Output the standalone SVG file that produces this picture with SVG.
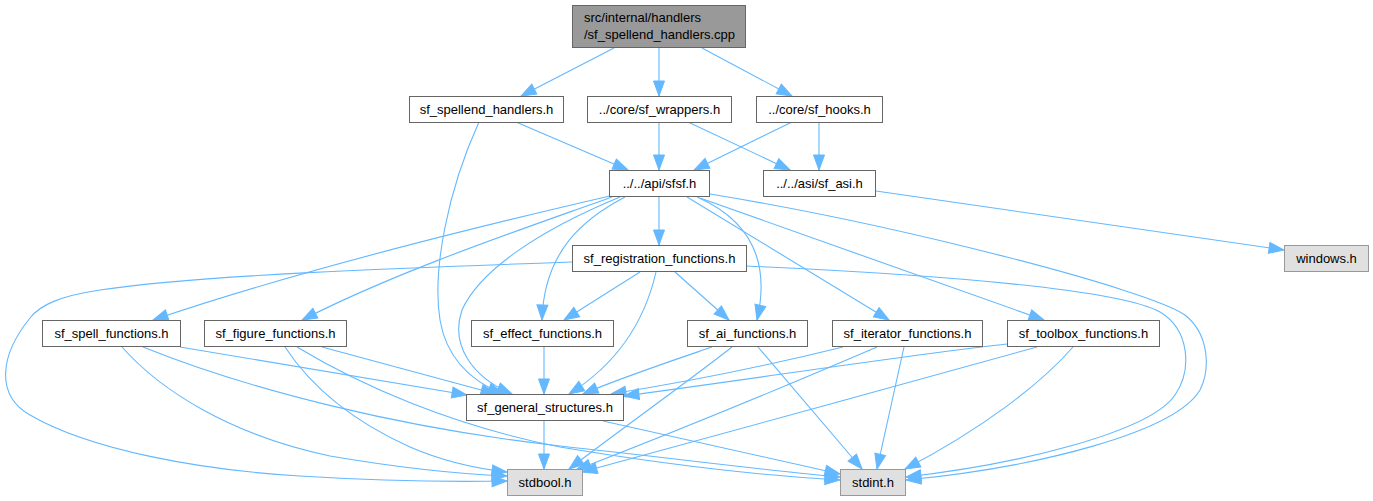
<svg xmlns="http://www.w3.org/2000/svg" width="1373" height="501" viewBox="0 0 1373 501">
<style>
.n rect{fill:#ffffff;stroke:#666666;stroke-width:1}
.g rect{fill:#e0e0e0;stroke:#999999;stroke-width:1}
.r rect{fill:#999999;stroke:#666666;stroke-width:1}
text{font-family:"Liberation Sans",Arial,sans-serif;font-size:13px;fill:#000000}
.c{text-anchor:middle}
#edges path{fill:none;stroke:#63b8ff;stroke-width:1.1;marker-end:url(#ah)}
</style>
<defs>
<marker id="ah" markerUnits="userSpaceOnUse" markerWidth="18" markerHeight="14" refX="15" refY="5.5" orient="auto" overflow="visible">
<path d="M0,0 L15,5.5 L0,11 z" fill="#63b8ff" stroke="#63b8ff" stroke-width="1"/>
</marker>
</defs>
<rect width="1373" height="501" fill="#ffffff"/>
<g id="edges">
<path d="M614,48 L521,96"/>
<path d="M659,48 L659,96"/>
<path d="M702,48 L792,96"/>
<path d="M516,122 L628,170"/>
<path d="M659,122 L659,170"/>
<path d="M688,122 L790,170"/>
<path d="M792,122 L694,170"/>
<path d="M819,122 L819,170"/>
<path d="M876,191 L1284,250"/>
<path d="M659,197 L659,245"/>
<path d="M610,196 C480,226 300,270 153,320"/>
<path d="M612,197 C520,230 400,270 302,320"/>
<path d="M625,197 C585,218 544,250 542,320"/>
<path d="M479,122 C448,190 432,270 440,320 C446,355 468,380 503,394"/>
<path d="M620,197 C540,230 480,270 462,310 C450,345 472,377 512,394"/>
<path d="M697,197 C745,218 772,255 757,320"/>
<path d="M687,197 L889,320"/>
<path d="M700,198 L1044,320"/>
<path d="M710,194 C900,225 1150,290 1185,315 C1210,335 1210,370 1200,390 C1175,432 1040,467 906,480"/>
<path d="M640,272 L564,320"/>
<path d="M675,272 L729,320"/>
<path d="M656,272 C645,320 620,362 569,394"/>
<path d="M572,262 C400,268 200,275 100,290 C60,296 40,305 30,318 C0,355 -5,395 30,415 C90,450 200,470 300,476 C380,481 450,482 507,481"/>
<path d="M746,266 C950,275 1120,290 1160,312 C1190,330 1192,370 1175,395 C1150,432 1020,464 906,477"/>
<path d="M180,347 L467,395"/>
<path d="M122,347 C160,390 230,435 330,456 C400,468 460,474 507,476"/>
<path d="M143,347 C250,390 400,428 560,446 C680,459 780,472 840,477"/>
<path d="M322,347 L496,394"/>
<path d="M285,347 C310,385 350,420 410,447 C440,460 470,468 507,472"/>
<path d="M297,347 C360,385 450,425 560,447 C680,467 770,476 840,480"/>
<path d="M544,347 L544,394"/>
<path d="M712,347 C680,358 620,378 583,394"/>
<path d="M732,347 C690,380 620,430 569,469"/>
<path d="M758,347 L862,469"/>
<path d="M843,347 C770,365 680,383 611,394"/>
<path d="M877,347 C800,380 680,430 576,470"/>
<path d="M904,347 L877,469"/>
<path d="M1007,344 C900,356 760,378 624,396"/>
<path d="M1037,347 C900,385 700,440 582,472"/>
<path d="M1073,347 C1040,385 980,430 905,469"/>
<path d="M544,421 L544,469"/>
<path d="M603,421 L840,474"/>
</g>
<g id="root" class="r"><rect x="572.5" y="5.5" width="173" height="42"/><text x="584" y="22">src/internal/handlers</text><text x="584" y="39">/sf_spellend_handlers.cpp</text></g>
<g id="n_spellend_h" class="n"><rect x="409.5" y="96.5" width="154" height="26"/><text class="c" x="486.5" y="113.5">sf_spellend_handlers.h</text></g>
<g id="n_wrappers" class="n"><rect x="587.5" y="96.5" width="144" height="26"/><text class="c" x="659.5" y="113.5">../core/sf_wrappers.h</text></g>
<g id="n_hooks" class="n"><rect x="756.5" y="96.5" width="126" height="26"/><text class="c" x="819.5" y="113.5">../core/sf_hooks.h</text></g>
<g id="n_sfsf" class="n"><rect x="609.5" y="170.5" width="100" height="26"/><text class="c" x="659.5" y="187.5">../../api/sfsf.h</text></g>
<g id="n_asi" class="n"><rect x="763.5" y="170.5" width="112" height="26"/><text class="c" x="819.5" y="187.5">../../asi/sf_asi.h</text></g>
<g id="n_windows" class="g"><rect x="1284.5" y="245.5" width="84" height="26"/><text class="c" x="1326.5" y="262.5">windows.h</text></g>
<g id="n_registration" class="n"><rect x="572.5" y="245.5" width="174" height="26"/><text class="c" x="659.5" y="262.5">sf_registration_functions.h</text></g>
<g id="n_spell" class="n"><rect x="42.5" y="320.5" width="138" height="26"/><text class="c" x="111.5" y="337.5">sf_spell_functions.h</text></g>
<g id="n_figure" class="n"><rect x="204.5" y="320.5" width="142" height="26"/><text class="c" x="275.5" y="337.5">sf_figure_functions.h</text></g>
<g id="n_effect" class="n"><rect x="471.5" y="320.5" width="142" height="26"/><text class="c" x="542.5" y="337.5">sf_effect_functions.h</text></g>
<g id="n_ai" class="n"><rect x="687.5" y="320.5" width="120" height="26"/><text class="c" x="747.5" y="337.5">sf_ai_functions.h</text></g>
<g id="n_iterator" class="n"><rect x="832.5" y="320.5" width="150" height="26"/><text class="c" x="907.5" y="337.5">sf_iterator_functions.h</text></g>
<g id="n_toolbox" class="n"><rect x="1007.5" y="320.5" width="152" height="26"/><text class="c" x="1083.5" y="337.5">sf_toolbox_functions.h</text></g>
<g id="n_general" class="n"><rect x="466.5" y="394.5" width="157" height="26"/><text class="c" x="545" y="411.5">sf_general_structures.h</text></g>
<g id="n_stdbool" class="g"><rect x="507.5" y="469.5" width="75" height="26"/><text class="c" x="545" y="486.5">stdbool.h</text></g>
<g id="n_stdint" class="g"><rect x="840.5" y="469.5" width="65" height="26"/><text class="c" x="873" y="486.5">stdint.h</text></g>
</svg>
